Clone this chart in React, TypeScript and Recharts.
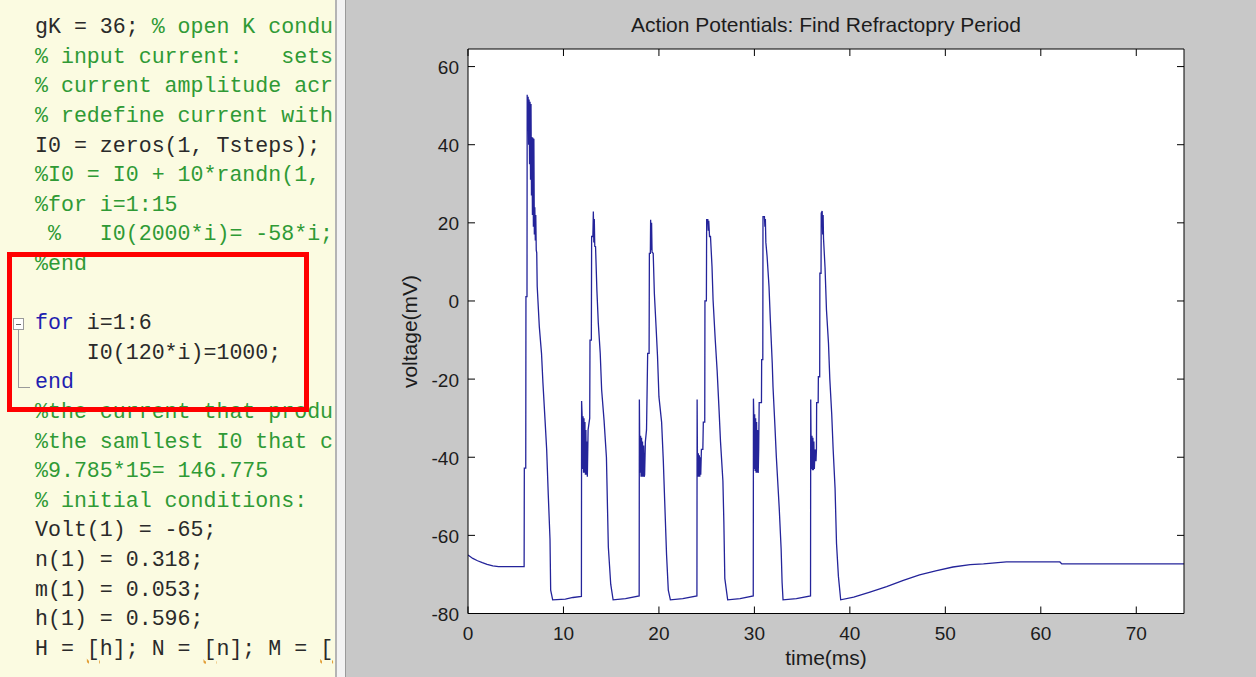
import React from "react";
import { LineChart, Line, XAxis, YAxis, CartesianGrid } from "recharts";

// time (ms), voltage (mV)
const restStart: [number, number][] = [
	[0, -65], [0.5, -65.9], [1, -66.5], [1.5, -67], [2, -67.4], [2.6, -67.8], [3.2, -68], [5.88, -68],
];

const spike1: [number, number][] = [
	[5.9, -42.8], [6.05, -42.8], [6.07, 1.1], [6.18, 1.1], [6.2, 52.8], [6.25, 44], [6.3, 52.3],
	[6.35, 40], [6.4, 51.6], [6.45, 35], [6.5, 51], [6.55, 31], [6.6, 50.4], [6.65, 27], [6.7, 42],
	[6.75, 22], [6.8, 41.8], [6.85, 19], [6.9, 41.5], [6.95, 17], [7.0, 24], [7.05, 15.5], [7.1, 22],
	[7.15, 13], [7.2, 12.3], [7.25, 3.7], [7.47, -6.6], [7.7, -13.4], [7.85, -21], [8.07, -30.5],
	[8.24, -38], [8.41, -49.7], [8.59, -61], [8.66, -74], [8.87, -76.5], [10.2, -76.3], [11.0, -75.9],
	[11.88, -75.6],
];

const spike2: [number, number][] = [
	[11.9, -25.6], [11.95, -29], [12.0, -43], [12.05, -29.5], [12.1, -44], [12.15, -30], [12.2, -44],
	[12.25, -31], [12.3, -44.5], [12.35, -33], [12.4, -44.5], [12.45, -36], [12.5, -45], [12.58, -33],
	[12.75, -30], [12.78, -10], [12.92, -10], [12.95, 16.5], [13.08, 16.5], [13.13, 22.9], [13.18, 15],
	[13.23, 21], [13.28, 14], [13.36, 13.9], [13.5, 2.8], [13.65, -5.7], [13.85, -13.4], [14.0, -22.8],
	[14.25, -30.5], [14.5, -40], [14.7, -63], [14.95, -72.5], [15.2, -76.5], [16.5, -76.2], [17.93, -75.5],
];

const spike3: [number, number][] = [
	[17.95, -25.2], [17.98, -34], [18.03, -44], [18.08, -34.5], [18.13, -45], [18.18, -35], [18.23, -45],
	[18.28, -36], [18.33, -45], [18.4, -37], [18.45, -45], [18.5, -44.5], [18.58, -36], [18.7, -33],
	[18.82, -13.4], [18.97, -13.4], [19.0, 12.2], [19.1, 12.2], [19.13, 20.8], [19.18, 13], [19.23, 20],
	[19.28, 12.5], [19.4, 12.2], [19.52, 2], [19.7, -6.6], [19.85, -14], [20.0, -24.5], [20.28, -31],
	[20.46, -41], [20.6, -51], [20.8, -65], [20.98, -74], [21.2, -76.5], [22.5, -76.2], [23.98, -75.5],
];

const spike4: [number, number][] = [
	[24.0, -25.2], [24.03, -38.6], [24.08, -45], [24.13, -39], [24.18, -45], [24.23, -39.5], [24.28, -45],
	[24.33, -40], [24.38, -44.5], [24.45, -38], [24.6, -38], [24.65, -31], [24.8, -31], [24.82, 0],
	[24.97, 0], [25.0, 20.8], [25.12, 20.8], [25.17, 18], [25.22, 20.5], [25.3, 16.5], [25.4, 16.5],
	[25.56, 8.8], [25.67, 0.3], [25.9, -10], [26.1, -18], [26.3, -28], [26.45, -36], [26.7, -46],
	[26.8, -56.5], [26.9, -71], [27.2, -76.5], [28.5, -76.2], [29.88, -75.5],
];

const spike5: [number, number][] = [
	[29.9, -25], [29.93, -28.4], [29.98, -43], [30.03, -29], [30.08, -43.5], [30.13, -30], [30.18, -44],
	[30.23, -31], [30.28, -44], [30.33, -33], [30.4, -44], [30.45, -38], [30.5, -26], [30.74, -26],
	[30.76, -15], [30.88, -15], [30.9, 21.6], [31.05, 21.6], [31.1, 19], [31.15, 21], [31.2, 15],
	[31.33, 11.4], [31.53, 3.7], [31.67, -4.9], [31.87, -16], [31.95, -22], [32.15, -32], [32.3, -40],
	[32.6, -53], [32.8, -63.5], [32.9, -72], [33.0, -76.5], [34.4, -76.2], [35.88, -75.5],
];

const spike6: [number, number][] = [
	[35.9, -25.2], [35.93, -34], [35.98, -43], [36.03, -34.5], [36.08, -43.3], [36.13, -35], [36.18, -43.3],
	[36.23, -36], [36.28, -43], [36.35, -38], [36.45, -41], [36.5, -38], [36.52, -26], [36.68, -26],
	[36.7, -19.4], [36.84, -19.4], [36.86, 7.1], [36.98, 7.1], [37.0, 22.5], [37.1, 23], [37.15, 17],
	[37.2, 22], [37.24, 16], [37.4, 8.5], [37.55, -2.3], [37.76, -10.8], [37.9, -20], [38.1, -29],
	[38.25, -38], [38.45, -48], [38.6, -62], [38.8, -70.5], [39.04, -76.5],
];

const recovery: [number, number][] = [
	[40.4, -75.8], [42.1, -74.5], [43.85, -73.1], [45.6, -71.5], [47.3, -70.1], [49.1, -69],
	[50.8, -68.1], [52.6, -67.5], [54.0, -67.3], [56.4, -66.8], [62.0, -66.8], [62.2, -67.3], [75, -67.3],
];

const xTicks = [0, 10, 20, 30, 40, 50, 60, 70];
const yTicks = [-80, -60, -40, -20, 0, 20, 40, 60];

const chartTitle = "Action Potentials: Find Refractopry Period";
const xLabel = "time(ms)";
const yLabel = "voltage(mV)";

// editor text, [text, kind]: c code, g comment, k keyword, w warning-underlined
const codeLines: [string, string][][] = [
	[["gK = 36; ", "c"], ["% open K condu", "g"]],
	[["% input current:   sets", "g"]],
	[["% current amplitude acr", "g"]],
	[["% redefine current with", "g"]],
	[["I0 = zeros(1, Tsteps);", "c"]],
	[["%I0 = I0 + 10*randn(1,", "g"]],
	[["%for i=1:15", "g"]],
	[[" %   I0(2000*i)= -58*i;", "g"]],
	[["%end", "g"]],
	[],
	[["for", "k"], [" i=1:6", "c"]],
	[["    I0(120*i)=1000;", "c"]],
	[["end", "k"]],
	[["%the current that produ", "g"]],
	[["%the samllest I0 that c", "g"]],
	[["%9.785*15= 146.775", "g"]],
	[["% initial conditions:", "g"]],
	[["Volt(1) = -65;", "c"]],
	[["n(1) = 0.318;", "c"]],
	[["m(1) = 0.053;", "c"]],
	[["h(1) = 0.596;", "c"]],
	[["H = ", "c"], ["[", "w"], ["h]; N = ", "c"], ["[", "w"], ["n]; M = ", "c"], ["[", "w"]],
];

const trace = [...restStart, ...spike1, ...spike2, ...spike3, ...spike4, ...spike5, ...spike6, ...recovery].map(
	([t, v]) => ({ t, v })
);

const SANS = "'Liberation Sans', Arial, sans-serif";
const MONO = "'Liberation Mono', 'Courier New', monospace";
const TICK_LEN = 7;
const tickText = { fontFamily: SANS, fontSize: 19, fill: "#1c1c1c" };

const kindColor: Record<string, string> = {
	c: "#2a2a2a",
	g: "#2f9a35",
	k: "#1f1fb0",
	w: "#2a2a2a",
};

const BottomTick = (props: any) => {
	const { x, y, payload } = props;
	return (
		<g>
			<line x1={x} x2={x} y1={y} y2={y - TICK_LEN} stroke="#000" />
			<text x={x} y={y + 26.5} textAnchor="middle" {...tickText}>
				{payload.value}
			</text>
		</g>
	);
};

const TopTick = (props: any) => {
	const { x, y } = props;
	return <line x1={x} x2={x} y1={y} y2={y + TICK_LEN} stroke="#000" />;
};

const LeftTick = (props: any) => {
	const { x, y, payload } = props;
	return (
		<g>
			<line x1={x} x2={x + TICK_LEN} y1={y} y2={y} stroke="#000" />
			<text x={x - 9} y={y + 7.5} textAnchor="end" {...tickText}>
				{payload.value}
			</text>
		</g>
	);
};

const RightTick = (props: any) => {
	const { x, y } = props;
	return <line x1={x} x2={x - TICK_LEN} y1={y} y2={y} stroke="#000" />;
};

const CodePanel = () => {
	const lineH = 29.6;
	return (
		<div
			style={{
				position: "absolute",
				left: 0,
				top: 0,
				width: 335,
				height: 677,
				background: "#fbfbe1",
				overflow: "hidden",
			}}
		>
			{codeLines.map((segs, i) => (
				<div
					key={i}
					style={{
						position: "absolute",
						left: 35,
						top: 13.2 + i * lineH,
						height: lineH,
						lineHeight: lineH + "px",
						fontFamily: MONO,
						fontSize: 21.6,
						whiteSpace: "pre",
					}}
				>
					{segs.map(([txt, kind], j) => (
						<span
							key={j}
							style={{
								color: kindColor[kind],
								textDecoration: kind === "w" ? "underline wavy #e3a13a" : "none",
							}}
						>
							{txt}
						</span>
					))}
				</div>
			))}
			{/* fold marker for the for-block */}
			<div
				style={{
					position: "absolute",
					left: 13,
					top: 318,
					width: 9,
					height: 10,
					border: "1px solid #9a9a9a",
					background: "#fff",
				}}
			>
				<div style={{ position: "absolute", left: 2, top: 4.5, width: 5, height: 1, background: "#666" }} />
			</div>
			<div style={{ position: "absolute", left: 18, top: 330, width: 1, height: 57, background: "#9a9a9a" }} />
			<div style={{ position: "absolute", left: 18, top: 387, width: 12, height: 1, background: "#9a9a9a" }} />
			{/* highlight box */}
			<div
				style={{
					position: "absolute",
					left: 7,
					top: 252,
					width: 302,
					height: 160,
					border: "5px solid #ff0000",
					boxSizing: "border-box",
				}}
			/>
		</div>
	);
};

const App = () => {
	return (
		<div
			style={{
				position: "absolute",
				left: 0,
				top: 0,
				width: 1256,
				height: 677,
				overflow: "hidden",
				background: "#c8c8c8",
			}}
		>
			<CodePanel />
			<div style={{ position: "absolute", left: 335, top: 0, width: 2, height: 677, background: "#b4b4b4" }} />
			<div style={{ position: "absolute", left: 337, top: 0, width: 8, height: 677, background: "#f3f3f3" }} />
			<div style={{ position: "absolute", left: 345, top: 0, width: 1, height: 677, background: "#9a9a9a" }} />

			<div style={{ position: "absolute", left: 346, top: 0 }}>
				<LineChart width={910} height={677} data={trace} margin={{ top: 48, right: 71, bottom: 33.5, left: 62 }}>
					<CartesianGrid horizontal={false} vertical={false} fill="#ffffff" stroke="none" xAxisId="b" yAxisId="l" />
					<XAxis
						xAxisId="b"
						dataKey="t"
						type="number"
						domain={[0, 75]}
						allowDataOverflow
						ticks={xTicks}
						interval={0}
						tickSize={0}
						tickMargin={0}
						tickLine={false}
						tick={<BottomTick />}
						axisLine={{ stroke: "#000" }}
						height={30}
					/>
					<XAxis
						xAxisId="top"
						orientation="top"
						dataKey="t"
						type="number"
						domain={[0, 75]}
						allowDataOverflow
						ticks={xTicks}
						interval={0}
						tickSize={0}
						tickMargin={0}
						tickLine={false}
						tick={<TopTick />}
						axisLine={{ stroke: "#000" }}
						height={1}
					/>
					<YAxis
						yAxisId="l"
						type="number"
						domain={[-80, 64.5]}
						allowDataOverflow
						ticks={yTicks}
						interval={0}
						tickSize={0}
						tickMargin={0}
						tickLine={false}
						tick={<LeftTick />}
						axisLine={{ stroke: "#000" }}
						width={60}
					/>
					<YAxis
						yAxisId="r"
						orientation="right"
						type="number"
						domain={[-80, 64.5]}
						allowDataOverflow
						ticks={yTicks}
						interval={0}
						tickSize={0}
						tickMargin={0}
						tickLine={false}
						tick={<RightTick />}
						axisLine={{ stroke: "#000" }}
						width={1}
					/>
					<Line
						xAxisId="b"
						yAxisId="l"
						type="linear"
						dataKey="v"
						stroke="#24249a"
						strokeWidth={1.3}
						dot={false}
						isAnimationActive={false}
					/>
				</LineChart>
			</div>

			<div
				style={{
					position: "absolute",
					left: 468,
					top: 13.7,
					width: 716,
					textAlign: "center",
					fontFamily: SANS,
					fontSize: 21,
					lineHeight: "21px",
					color: "#1c1c1c",
					whiteSpace: "nowrap",
				}}
			>
				{chartTitle}
			</div>
			<div
				style={{
					position: "absolute",
					left: 468,
					top: 647,
					width: 716,
					textAlign: "center",
					fontFamily: SANS,
					fontSize: 21,
					lineHeight: "21px",
					color: "#1c1c1c",
				}}
			>
				{xLabel}
			</div>
			<div
				style={{
					position: "absolute",
					left: 309,
					top: 320.5,
					width: 200,
					height: 21,
					textAlign: "center",
					fontFamily: SANS,
					fontSize: 21,
					lineHeight: "21px",
					color: "#1c1c1c",
					transform: "rotate(-90deg)",
				}}
			>
				{yLabel}
			</div>
		</div>
	);
};

export default App;
